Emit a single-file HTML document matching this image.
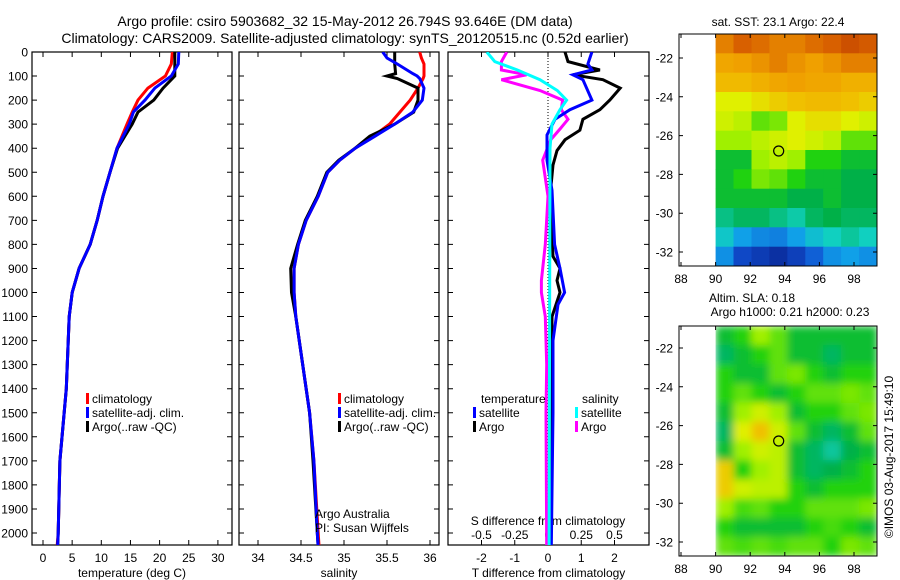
<!DOCTYPE html>
<html><head><meta charset="utf-8"><style>
body{margin:0;background:#fff;width:900px;height:580px;overflow:hidden}
svg{display:block;font-family:"Liberation Sans",sans-serif}
</style></head><body>
<svg id="fig" width="900" height="580" viewBox="0 0 900 580" xmlns="http://www.w3.org/2000/svg">
<rect width="900" height="580" fill="#fff"/>
<defs>
<clipPath id="c1"><rect x="32" y="52" width="200" height="493"/></clipPath>
<clipPath id="c2"><rect x="239" y="52" width="200" height="493"/></clipPath>
<clipPath id="c3"><rect x="448" y="52" width="201" height="493"/></clipPath>
<clipPath id="cm1"><rect x="679" y="34" width="198" height="232"/></clipPath>
<clipPath id="cm2"><rect x="679" y="326" width="198" height="230"/></clipPath>
<filter id="blur" x="0" y="0" width="1" height="1"><feGaussianBlur stdDeviation="4"/></filter>
</defs>
<text x="345" y="26" font-size="14" text-anchor="middle">Argo profile: csiro 5903682_32 15-May-2012 26.794S 93.646E (DM data)</text>
<text x="345" y="43" font-size="14" text-anchor="middle">Climatology: CARS2009. Satellite-adjusted climatology: synTS_20120515.nc (0.52d earlier)</text>
<text x="778" y="26" font-size="12" text-anchor="middle">sat. SST: 23.1 Argo: 22.4</text>
<text x="752" y="302" font-size="12" text-anchor="middle">Altim. SLA: 0.18</text>
<text x="790" y="316" font-size="12" text-anchor="middle">Argo h1000: 0.21 h2000: 0.23</text>
<text transform="translate(893,457) rotate(-90)" font-size="12" text-anchor="middle">©IMOS 03-Aug-2017 15:49:10</text>
<g id="g1"></g>
<g id="g2"></g>
<g id="g3"></g>
<g id="m1"></g>
<g id="m2"></g>
</svg>
<script>
const depths=[0,50,100,150,200,250,300,400,500,600,700,800,900,1000,1100,1400,1700,2000,2060];
const tempClim=[22.2,22.0,21.0,18.0,16.3,15.3,14.4,12.7,11.5,10.3,9.3,8.1,6.2,5.0,4.5,4.0,2.9,2.6,2.4];
const tempSat=[23.3,23.2,22.0,19.2,17.5,15.5,14.8,12.7,11.5,10.3,9.3,8.1,6.2,5.0,4.5,4.0,2.9,2.6,2.5];
const tempArgo=[22.6,22.6,22.6,20.6,19.0,16.3,15.3,12.8,11.5,10.3,9.3,8.1,6.2,5.0,4.5,4.0,2.9,2.6,2.5];
const salDepths=[0,25,50,90,100,110,150,200,250,300,350,400,450,500,600,700,800,900,1000,1100,1300,1500,1700,2000,2060];
const salClim=[35.88,35.9,35.93,35.93,35.93,35.92,35.86,35.77,35.65,35.53,35.34,35.13,34.95,34.81,34.70,34.56,34.47,34.42,34.42,34.44,34.52,34.6,34.65,34.7,34.71];
const salSat=[35.45,35.5,35.62,35.8,35.85,35.88,35.93,35.91,35.8,35.59,35.36,35.13,34.95,34.81,34.70,34.56,34.47,34.42,34.42,34.44,34.52,34.6,34.65,34.69,34.7];
const salArgo=[35.59,35.59,35.59,35.6,35.5,35.62,35.86,35.86,35.81,35.59,35.3,35.13,34.94,34.8,34.69,34.55,34.46,34.38,34.39,34.44,34.52,34.6,34.64,34.69,34.7];
const dSatTdep=[0,50,75,95,115,200,240,280,345,450,575,800,900,1000,1050,1200,1500,2060];
const dSatT=[1.32,1.2,1.32,0.75,1.05,1.32,0.66,0.21,-0.03,-0.03,0.12,0.2,0.36,0.5,0.3,0.15,0.15,0.1];
const dArgoTdep=[0,40,75,95,115,150,200,240,280,325,365,410,470,600,850,900,950,1000,1100,2060];
const dArgoT=[0.51,0.6,1.56,0.75,1.65,2.17,1.86,1.56,1.05,0.96,0.51,0.27,0.15,0.06,0.15,0.36,0.27,0.36,0.12,0.06];
const dArgoSdep=[0,40,75,95,115,160,200,240,280,320,365,450,600,800,950,1000,1100,1300,1500,2060];
const dArgoS=[-0.31,-0.35,-0.35,-0.16,-0.35,-0.06,0.11,0.1,0.15,0.09,0.02,-0.04,0,-0.02,-0.05,-0.05,-0.02,-0.01,-0.015,-0.01];
const dSatSdep=[0,40,75,115,160,200,240,300,400,2060];
const dSatS=[-0.46,-0.4,-0.23,-0.06,0.07,0.14,0.09,0.03,0.015,0.008];
const depthTicks=[0,100,200,300,400,500,600,700,800,900,1000,1100,1200,1300,1400,1500,1600,1700,1800,1900,2000];
const tempTicks=[0,5,10,15,20,25,30];
const salTicks=[34,34.5,35,35.5,36];
const tdTicks=[-2,-1,0,1,2];
const sdTicks=[-0.5,-0.25,0,0.25,0.5];
const sdTickLabels=["-0.5","-0.25","0","0.25","0.5"];
const lonTicks=[88,90,92,94,96,98];
const latTicks=[-22,-24,-26,-28,-30,-32];
const sstGrid=[
[.85,.9,.88,.85,.85,.88,.9,.95,.92],
[.78,.8,.82,.85,.82,.8,.82,.85,.85],
[.72,.72,.75,.78,.8,.78,.78,.75,.75],
[.62,.62,.65,.68,.7,.72,.72,.7,.68],
[.6,.58,.5,.52,.62,.65,.65,.62,.6],
[.55,.55,.58,.6,.62,.6,.58,.5,.5],
[.42,.42,.55,.58,.55,.45,.45,.42,.42],
[.42,.45,.52,.5,.45,.42,.42,.4,.4],
[.42,.42,.42,.42,.4,.4,.42,.4,.4],
[.35,.38,.38,.35,.32,.38,.4,.38,.38],
[.28,.2,.17,.16,.2,.26,.3,.33,.3],
[.18,.08,.05,.02,.06,.12,.18,.2,.18]];
const slaGrid=[
[.42,.45,.55,.5,.42,.42,.42,.42,.42],
[.38,.42,.45,.5,.42,.42,.38,.42,.42],
[.45,.42,.42,.5,.52,.45,.42,.45,.45],
[.45,.5,.45,.42,.45,.5,.5,.52,.5],
[.42,.55,.6,.55,.42,.45,.45,.5,.52],
[.38,.62,.7,.6,.5,.42,.38,.42,.5],
[.42,.55,.6,.58,.42,.38,.33,.4,.42],
[.68,.45,.55,.58,.42,.38,.4,.42,.45],
[.68,.6,.58,.58,.45,.42,.45,.45,.45],
[.55,.48,.5,.45,.45,.5,.5,.5,.52],
[.45,.42,.42,.42,.42,.45,.48,.45,.42],
[.5,.48,.5,.48,.5,.5,.45,.52,.5]];
const argoLon=93.646, argoLat=-26.794;

const NS='http://www.w3.org/2000/svg';
function mk(tag,attrs,parent){const e=document.createElementNS(NS,tag);for(const k in attrs)e.setAttribute(k,attrs[k]);parent.appendChild(e);return e;}
const yD=d=>52+d*0.2405;
function path(xs,ds,xf,yf){return xs.map((v,i)=>(i?'L':'M')+xf(v).toFixed(1)+','+yf(ds[i]).toFixed(1)).join('');}

function panel(g,x0,x1,xf,ticks,labels,title,showY){
  const r=mk('rect',{x:x0,y:52,width:x1-x0,height:493,fill:'none',stroke:'#000','stroke-width':1.2},g);
  
  
  depthTicks.forEach(d=>{
    const y=yD(d);
    const t=mk('path',{d:`M${x0},${y}h5M${x1},${y}h-5`,stroke:'#000'},g);
    
    
    if(showY){const l=mk('text',{x:28,y:y+4.5,'font-size':12,'text-anchor':'end'},g);l.textContent=d;
      
      }
  });
  ticks.forEach((v,i)=>{
    const x=xf(v);
    const t=mk('path',{d:`M${x},545v-5M${x},52v5`,stroke:'#000'},g);
    
    
    if(labels){const l=mk('text',{x:x,y:562,'font-size':12,'text-anchor':'middle'},g);l.textContent=labels[i];
      
      }
  });
  const tt=mk('text',{x:(x0+x1)/2,y:577,'font-size':12,'text-anchor':'middle'},g);tt.textContent=title;
  
  
}
function line(g,vals,ds,xf,color,name,w,clip){
  const p=mk('path',{d:path(vals,ds,xf,yD),fill:'none',stroke:color,'stroke-width':w||3,'clip-path':clip},g);
  
  
}
function legend(g,x,y,color,label){
  const b=mk('rect',{x:x,y:y-10,width:3,height:11,fill:color},g);
  
  
  const t=mk('text',{x:x+6,y:y,'font-size':12},g);t.textContent=label;
  
  
}
const g1=document.getElementById('g1');
const xT=v=>43+v*5.83;
panel(g1,32,232,xT,tempTicks,tempTicks.map(String),'temperature (deg C)',true);
line(g1,tempClim,depths,xT,'#f00','temp-climatology-line',3,'url(#c1)');
line(g1,tempArgo,depths,xT,'#000','temp-argo-line',3,'url(#c1)');
line(g1,tempSat,depths,xT,'#00f','temp-satellite-line',3,'url(#c1)');
legend(g1,86,403,'#f00','climatology');legend(g1,86,417,'#00f','satellite-adj. clim.');legend(g1,86,431,'#000','Argo(..raw -QC)');
const g2=document.getElementById('g2');
const xS=v=>258+(v-34)*86;
panel(g2,239,439,xS,salTicks,salTicks.map(String),'salinity',false);
line(g2,salClim,salDepths,xS,'#f00','sal-climatology-line',3,'url(#c2)');
line(g2,salArgo,salDepths,xS,'#000','sal-argo-line',3,'url(#c2)');
line(g2,salSat,salDepths,xS,'#00f','sal-satellite-line',3,'url(#c2)');
legend(g2,338,403,'#f00','climatology');legend(g2,338,417,'#00f','satellite-adj. clim.');legend(g2,338,431,'#000','Argo(..raw -QC)');
[['Argo Australia',518],['PI: Susan Wijffels',532]].forEach(a=>{const t=mk('text',{x:315,y:a[1],'font-size':12},g2);t.textContent=a[0];
  
  });
const g3=document.getElementById('g3');
const xTd=v=>548+v*33.25, xSd=v=>548+v*133;
panel(g3,448,649,xTd,tdTicks,tdTicks.map(String),'T difference from climatology',false);
const zl=mk('line',{x1:548,y1:52,x2:548,y2:545,stroke:'#000','stroke-dasharray':'1,2'},g3);


sdTicks.forEach((v,i)=>{const t=mk('text',{x:xSd(v),y:539,'font-size':12,'text-anchor':'middle'},g3);t.textContent=sdTickLabels[i];
  
  });
const st=mk('text',{x:548,y:525,'font-size':12,'text-anchor':'middle'},g3);st.textContent='S difference from climatology';


line(g3,dArgoS,dArgoSdep,xSd,'#f0f','sal-argo-diff-line',3,'url(#c3)');
line(g3,dArgoT,dArgoTdep,xTd,'#000','temp-argo-diff-line',3,'url(#c3)');
line(g3,dSatT,dSatTdep,xTd,'#00f','temp-satellite-diff-line',3,'url(#c3)');
line(g3,dSatS,dSatSdep,xSd,'#0ff','sal-satellite-diff-line',3,'url(#c3)');
[['temperature',481],['salinity',582]].forEach(a=>{const t=mk('text',{x:a[1],y:403,'font-size':12},g3);t.textContent=a[0];
  
  });
legend(g3,473,417,'#00f','satellite');legend(g3,473,431,'#000','Argo');
legend(g3,575,417,'#0ff','satellite');legend(g3,575,431,'#f0f','Argo');

const cstops=[[0,[10,40,150]],[.1,[16,80,210]],[.2,[16,160,232]],[.3,[16,208,192]],[.4,[0,176,72]],[.45,[32,210,16]],[.55,[160,240,0]],[.62,[224,240,0]],[.7,[240,192,0]],[.8,[240,160,0]],[.9,[216,96,0]],[1,[192,64,0]]];
function cmap(v){for(let i=1;i<cstops.length;i++){if(v<=cstops[i][0]){const a=cstops[i-1],b=cstops[i],t=(v-a[0])/(b[0]-a[0]);return 'rgb('+a[1].map((c,k)=>Math.round(c+(b[1][k]-c)*t)).join(',')+')';}}return 'rgb(192,64,0)';}
const xLon=l=>681+(l-88)*17.3;
function map(g,top,bot,lat22,grid,clip,smooth){
  const yLat=l=>lat22+(-22-l)*19.4;
  const cg=mk('g',{'clip-path':clip},g);
  const inner=mk('g',smooth?{filter:'url(#blur)'}:{},cg);
  const rows=grid.length, cols=grid[0].length;
  const x0=xLon(90), x1=877, y0=top, h=(bot-top)/rows, w=(x1-x0)/cols;
  grid.forEach((row,r)=>row.forEach((v,c)=>{
    const cell=mk('rect',{x:(x0+c*w).toFixed(1),y:(y0+r*h).toFixed(1),width:(w+0.6).toFixed(1),height:(h+0.6).toFixed(1),fill:cmap(v)},inner);
    
    
  }));
  if(smooth){const cl=mk('rect',{x:679,y:top,width:x0-679,height:bot-top,fill:'#fff'},cg);
    
    }
  const fr=mk('rect',{x:679,y:top,width:198,height:bot-top,fill:'none',stroke:'#000'},g);
  
  
  lonTicks.forEach(l=>{const x=xLon(l);
    const t=mk('path',{d:`M${x},${bot}v-4M${x},${top}v4`,stroke:'#000'},g);
    
    
    const tl=mk('text',{x:x,y:bot+17,'font-size':12,'text-anchor':'middle'},g);tl.textContent=l;
    
    });
  latTicks.forEach(l=>{const y=yLat(l);
    const t=mk('path',{d:`M679,${y}h4M877,${y}h-4`,stroke:'#000'},g);
    
    
    const tl=mk('text',{x:673,y:y+4.5,'font-size':12,'text-anchor':'end'},g);tl.textContent=l;
    
    });
  const c=mk('circle',{cx:xLon(argoLon),cy:yLat(argoLat),r:5,fill:'none',stroke:'#000','stroke-width':1.2},g);
  
  
}
map(document.getElementById('m1'),34,266,58,sstGrid,'url(#cm1)',false);
map(document.getElementById('m2'),326,556,348,slaGrid,'url(#cm2)',true);
</script>
</body></html>
